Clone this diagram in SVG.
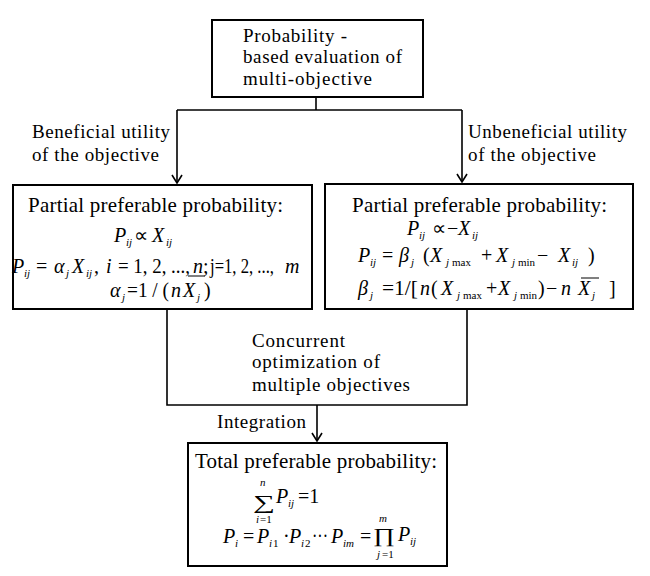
<svg xmlns="http://www.w3.org/2000/svg" width="650" height="576" viewBox="0 0 650 576" font-family="Liberation Serif, serif">
<style>
.box{fill:#fff;stroke:#000;stroke-width:2}
.ln{fill:none;stroke:#000;stroke-width:1.6}
text{font-family:"Liberation Serif",serif;fill:#000}
.t{font-size:19px}
.h{font-size:21px}
.m{font-size:20px}
.i{font-style:italic}
.s{font-size:11px;font-style:italic}
.sn{font-size:11px}
.bar{stroke:#000;stroke-width:1}
</style>
<defs>
<marker id="arr" viewBox="-1 -6 10 12" refX="8" refY="0" markerWidth="10" markerHeight="12" markerUnits="userSpaceOnUse" orient="auto">
<path d="M0,-5 L8,0 L0,5" fill="none" stroke="#000" stroke-width="1.6"/>
</marker>
</defs>
<rect width="650" height="576" fill="#fff"/>

<g id="connectors">
<line class="ln" x1="316" y1="97" x2="316" y2="110"/>
<line class="ln" x1="177" y1="110" x2="462" y2="110"/>
<line class="ln" x1="177" y1="110" x2="177" y2="183" marker-end="url(#arr)"/>
<line class="ln" x1="462" y1="110" x2="462" y2="182" marker-end="url(#arr)"/>
<polyline class="ln" points="167,310 167,405 467,405 467,310"/>
<line class="ln" x1="317" y1="405" x2="317" y2="441" marker-end="url(#arr)"/>
<text class="t" x="32" y="138" textLength="138">Beneficial utility</text>
<text class="t" x="32" y="161" textLength="127">of the objective</text>
<text class="t" x="468" y="138" textLength="159">Unbeneficial utility</text>
<text class="t" x="468" y="161" textLength="128">of the objective</text>
<text class="t" x="252" y="347" textLength="93">Concurrent</text>
<text class="t" x="252" y="368" textLength="128">optimization of</text>
<text class="t" x="252" y="391" textLength="158">multiple objectives</text>
<text class="t" x="217" y="428" textLength="89">Integration</text>
</g>

<g id="top">
<rect class="box" x="212" y="20" width="211" height="77"/>
<text class="t" x="243" y="42" textLength="104">Probability -</text>
<text class="t" x="243" y="63" textLength="159">based evaluation of</text>
<text class="t" x="243" y="85" textLength="129">multi-objective</text>
</g>

<g id="left">
<rect class="box" x="13" y="185" width="299" height="124"/>
<text class="h" x="28" y="212" textLength="255">Partial preferable probability:</text>
<text class="m i" x="114" y="242">P</text><text class="s" x="126" y="246">ij</text>
<text class="m" x="134" y="242">∝</text>
<text class="m i" x="152" y="242">X</text><text class="s" x="166" y="246">ij</text>

<text class="m i" x="12" y="273">P</text><text class="s" x="24" y="277">ij</text>
<text class="m" x="36" y="273">=</text>
<text class="m i" x="54" y="273">α</text><text class="s" x="66" y="277">j</text>
<text class="m i" x="72" y="273">X</text><text class="s" x="86" y="277">ij</text>
<text class="m" x="94" y="273">,</text>
<text class="m i" x="106" y="273">i</text>
<text class="m" x="118" y="273" textLength="72" lengthAdjust="spacingAndGlyphs">= 1, 2, ...,</text>
<text class="m i" x="193" y="273">n</text>
<text class="m" x="203" y="273">;</text>
<text class="m" x="210" y="273" textLength="64" lengthAdjust="spacingAndGlyphs">j=1, 2, ...,</text>
<text class="m i" x="285" y="273">m</text>

<text class="m i" x="110" y="297">α</text><text class="s" x="122" y="301">j</text>
<text class="m" x="127" y="297" textLength="42" lengthAdjust="spacingAndGlyphs">=1 / (</text>
<text class="m i" x="171" y="297">n</text>
<text class="m i" x="183" y="297">X</text><text class="s" x="197" y="301">j</text>
<line class="bar" x1="188" y1="276" x2="205" y2="276"/>
<text class="m" x="204" y="297">)</text>
</g>

<g id="right">
<rect class="box" x="325" y="184" width="308" height="125"/>
<text class="h" x="352" y="212" textLength="255">Partial preferable probability:</text>
<text class="m i" x="407" y="235">P</text><text class="s" x="419" y="239">ij</text>
<text class="m" x="432" y="235">∝</text>
<text class="m" x="447" y="235">−</text>
<text class="m i" x="458" y="235">X</text><text class="s" x="472" y="239">ij</text>

<text class="m i" x="358" y="262">P</text><text class="s" x="370" y="266">ij</text>
<text class="m" x="382" y="262">=</text>
<text class="m i" x="399" y="262">β</text><text class="s" x="411" y="266">j</text>
<text class="m" x="423" y="262">(</text>
<text class="m i" x="430" y="262">X</text><text class="s" x="446" y="266">j</text><text class="sn" x="452" y="266">max</text>
<text class="m" x="481" y="262">+</text>
<text class="m i" x="496" y="262">X</text><text class="s" x="512" y="266">j</text><text class="sn" x="518" y="266">min</text>
<text class="m" x="537" y="262">−</text>
<text class="m i" x="558" y="262">X</text><text class="s" x="572" y="266">ij</text>
<text class="m" x="588" y="262">)</text>

<text class="m i" x="358" y="295">β</text><text class="s" x="370" y="299">j</text>
<text class="m" x="382" y="295" textLength="36" lengthAdjust="spacingAndGlyphs">=1/[</text>
<text class="m i" x="420" y="295">n</text>
<text class="m" x="431" y="295">(</text>
<text class="m i" x="441" y="295">X</text><text class="s" x="457" y="299">j</text><text class="sn" x="463" y="299">max</text>
<text class="m" x="486" y="295">+</text>
<text class="m i" x="498" y="295">X</text><text class="s" x="514" y="299">j</text><text class="sn" x="520" y="299">min</text>
<text class="m" x="538" y="295">)</text>
<text class="m" x="546" y="295">−</text>
<text class="m i" x="561" y="295">n</text>
<text class="m i" x="578" y="295">X</text><text class="s" x="592" y="299">j</text>
<line class="bar" x1="581" y1="278" x2="599" y2="278"/>
<text class="m" x="609" y="295">]</text>
</g>

<g id="bottom">
<rect class="box" x="188" y="443" width="259" height="123"/>
<text class="h" x="195" y="468" textLength="242">Total preferable probability:</text>
<text class="s" x="260" y="486">n</text>
<text class="m" x="253" y="509" font-size="30" textLength="22" lengthAdjust="spacingAndGlyphs">∑</text>
<text class="s" x="256" y="523">i</text><text class="sn" x="260" y="523">=1</text>
<text class="m i" x="276" y="503">P</text><text class="s" x="288" y="507">ij</text>
<text class="m" x="298" y="503">=1</text>

<text class="m i" x="223" y="543">P</text><text class="s" x="235" y="547">i</text>
<text class="m" x="243" y="543">=</text>
<text class="m i" x="257" y="543">P</text><text class="s" x="269" y="547">i</text><text class="sn" x="273" y="547">1</text>
<text class="m" x="283" y="543">·</text>
<text class="m i" x="289" y="543">P</text><text class="s" x="301" y="547">i</text><text class="sn" x="305" y="547">2</text>
<text class="m" x="312" y="543" textLength="16" lengthAdjust="spacingAndGlyphs">···</text>
<text class="m i" x="331" y="543">P</text><text class="s" x="343" y="547">im</text>
<text class="m" x="360" y="543">=</text>
<text class="s" x="379" y="522">m</text>
<text class="m" x="373" y="542" font-size="28" textLength="22" lengthAdjust="spacingAndGlyphs">∏</text>
<text class="s" x="377" y="558">j</text><text class="sn" x="382" y="558">=1</text>
<text class="m i" x="398" y="541">P</text><text class="s" x="410" y="545">ij</text>
</g>
</svg>
